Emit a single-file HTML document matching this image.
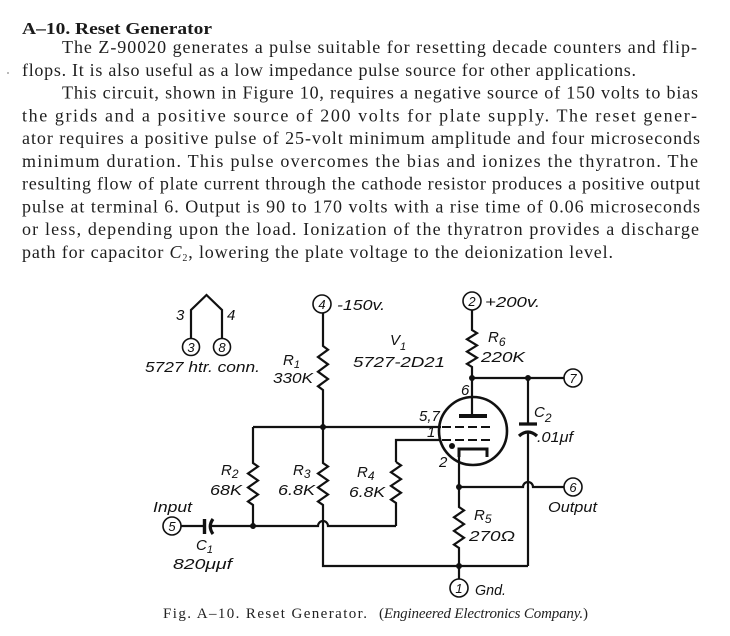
<!DOCTYPE html>
<html>
<head>
<meta charset="utf-8">
<style>
  html, body { margin: 0; padding: 0; background: #ffffff; }
  body { width: 730px; height: 636px; overflow: hidden; }
  svg { display: block; }
  .body { font-family: "Liberation Serif", serif; font-size: 18px; fill: #1e1e1e; }
  .lbl { font-family: "Liberation Sans", "DejaVu Sans", sans-serif; font-style: italic; font-size: 15px; fill: #111; }
  .num { font-family: "Liberation Sans", "DejaVu Sans", sans-serif; font-style: italic; font-size: 13px; fill: #111; text-anchor: middle; }
  .w { fill: none; stroke: #111; stroke-width: 2.2; stroke-linejoin: miter; }
  .c { fill: #fff; stroke: #111; stroke-width: 1.6; }
</style>
</head>
<body>
<svg width="730" height="636" viewBox="0 0 730 636" xmlns="http://www.w3.org/2000/svg">
  <!-- Title and body text -->
  <text x="22" y="34" font-family="Liberation Serif, serif" font-weight="bold" font-size="17" fill="#1a1a1a" textLength="190" lengthAdjust="spacingAndGlyphs">A–10. Reset Generator</text>

  <text class="body" x="62" y="53" textLength="635" lengthAdjust="spacing">The Z-90020 generates a pulse suitable for resetting decade counters and flip-</text>
  <text class="body" x="22" y="76" textLength="614" lengthAdjust="spacing">flops.  It is also useful as a low impedance pulse source for other applications.</text>
  <text class="body" x="62" y="98.7" textLength="636" lengthAdjust="spacing">This circuit, shown in Figure 10, requires a negative source of 150 volts to bias</text>
  <text class="body" x="22" y="121.5" textLength="675" lengthAdjust="spacing">the grids and a positive source of 200 volts for plate supply.  The reset gener-</text>
  <text class="body" x="22" y="144.2" textLength="678" lengthAdjust="spacing">ator requires a positive pulse of 25-volt minimum amplitude and four microseconds</text>
  <text class="body" x="22" y="167" textLength="676" lengthAdjust="spacing">minimum duration.  This pulse overcomes the bias and ionizes the thyratron.  The</text>
  <text class="body" x="22" y="189.7" textLength="678" lengthAdjust="spacing">resulting flow of plate current through the cathode resistor produces a positive output</text>
  <text class="body" x="22" y="212.5" textLength="678" lengthAdjust="spacing">pulse at terminal 6.  Output is 90 to 170 volts with a rise time of 0.06 microseconds</text>
  <text class="body" x="22" y="235.2" textLength="677" lengthAdjust="spacing">or less, depending upon the load.  Ionization of the thyratron provides a discharge</text>
  <text class="body" x="22" y="258" textLength="591" lengthAdjust="spacing">path for capacitor <tspan font-style="italic">C</tspan><tspan font-size="10" dy="3">2</tspan><tspan dy="-3">, lowering the plate voltage to the deionization level.</tspan></text>

  <circle cx="8" cy="73" r="0.9" fill="#888"/>

  <!-- Heater connection -->
  <path class="w" d="M191 338.5 V310 L206.5 295 L222 310 V338.5"/>
  <circle class="c" cx="191" cy="347" r="8.5"/>
  <circle class="c" cx="222" cy="347" r="8.5"/>
  <text class="num" x="191" y="352">3</text>
  <text class="num" x="222" y="352">8</text>
  <text class="lbl" x="176" y="320" font-size="13" font-style="normal">3</text>
  <text class="lbl" x="227" y="320" font-size="13" font-style="normal">4</text>
  <text class="lbl" x="145" y="372" textLength="115" lengthAdjust="spacingAndGlyphs">5727 htr. conn.</text>

  <!-- -150v supply and R1 -->
  <circle class="c" cx="322" cy="304" r="9"/>
  <text class="num" x="322" y="309">4</text>
  <text class="lbl" x="337" y="310" textLength="48" lengthAdjust="spacingAndGlyphs">-150v.</text>
  <path class="w" d="M323 313 V346 L328 349.7 L318 357 L328 364.3 L318 371.7 L328 379 L318 386.3 L323 390 V427"/>
  <text class="lbl" x="283" y="365">R<tspan font-size="11" dy="3">1</tspan></text>
  <text class="lbl" x="273" y="383" textLength="40" lengthAdjust="spacingAndGlyphs">330K</text>

  <!-- V1 label -->
  <text class="lbl" x="390" y="345">V<tspan font-size="11" dy="5">1</tspan></text>
  <text class="lbl" x="353" y="367" textLength="92" lengthAdjust="spacingAndGlyphs">5727-2D21</text>

  <!-- +200v supply, R6 -->
  <circle class="c" cx="472" cy="301" r="9"/>
  <text class="num" x="472" y="306">2</text>
  <text class="lbl" x="485" y="307" textLength="55" lengthAdjust="spacingAndGlyphs">+200v.</text>
  <path class="w" d="M472 310 V330 L477 333.1 L467 339.3 L477 345.4 L467 351.6 L477 357.8 L467 363.9 L472 367 V416"/>
  <text class="lbl" x="488" y="342">R<tspan font-size="12" dy="4">6</tspan></text>
  <text class="lbl" x="481" y="362" textLength="44" lengthAdjust="spacingAndGlyphs">220K</text>

  <!-- Plate line to terminal 7 -->
  <path class="w" d="M472 378 H564"/>
  <circle class="c" cx="573" cy="378" r="9"/>
  <text class="num" x="573" y="383">7</text>

  <!-- C2 -->
  <path class="w" d="M528 378 V424"/>
  <path d="M519 424 H537" stroke="#111" stroke-width="3.2" fill="none"/>
  <path d="M519 436 Q528 428 537 436" stroke="#111" stroke-width="3.2" fill="none"/>
  <path class="w" d="M528 432 V566"/>
  <text class="lbl" x="534" y="417">C<tspan font-size="12" dy="5">2</tspan></text>
  <text class="lbl" x="537" y="442" textLength="36" lengthAdjust="spacingAndGlyphs">.01μf</text>

  <!-- Tube -->
  <circle cx="473" cy="431" r="34" fill="none" stroke="#111" stroke-width="2.6"/>
  <rect x="459" y="414" width="28" height="4" fill="#111"/>
  <path d="M442 427 H491" stroke="#111" stroke-width="2" stroke-dasharray="9 4" fill="none"/>
  <path d="M442 440 H491" stroke="#111" stroke-width="2" stroke-dasharray="9 4" fill="none"/>
  <path d="M459 457 V449 H487 V457" stroke="#111" stroke-width="3" fill="none"/>
  <circle cx="452" cy="446" r="3" fill="#111"/>
  <text class="lbl" x="461" y="395" font-size="14" font-style="normal">6</text>
  <text class="lbl" x="419" y="421" font-size="13" font-style="normal">5,7</text>
  <text class="lbl" x="427" y="437" font-size="11">1</text>
  <text class="lbl" x="439" y="467" font-size="14" font-style="normal">2</text>

  <!-- Grid wires -->
  <path class="w" d="M253 427 H441"/>
  <path class="w" d="M396 462 V440 H441"/>

  <!-- R2 -->
  <path class="w" d="M253 427 V463 L258 466.5 L248 473.5 L258 480.5 L248 487.5 L258 494.5 L248 501.5 L253 505 V526"/>
  <text class="lbl" x="221" y="475">R<tspan font-size="12" dy="3">2</tspan></text>
  <text class="lbl" x="210" y="495" textLength="32" lengthAdjust="spacingAndGlyphs">68K</text>

  <!-- R3 -->
  <path class="w" d="M323 427 V463 L328 466.5 L318 473.5 L328 480.5 L318 487.5 L328 494.5 L318 501.5 L323 505 V566 H528"/>
  <text class="lbl" x="293" y="475">R<tspan font-size="12" dy="3">3</tspan></text>
  <text class="lbl" x="278" y="495" textLength="37" lengthAdjust="spacingAndGlyphs">6.8K</text>

  <!-- R4 -->
  <path class="w" d="M396 462 L401 465.4 L391 472.3 L401 479.1 L391 485.9 L401 492.8 L391 499.6 L396 503 V526"/>
  <text class="lbl" x="357" y="477">R<tspan font-size="12" dy="3">4</tspan></text>
  <text class="lbl" x="349" y="497" textLength="36" lengthAdjust="spacingAndGlyphs">6.8K</text>

  <!-- Bottom bias line with hop over R3 lead -->
  <path class="w" d="M253 526 H318 A5 5 0 0 1 328 526 H396"/>

  <!-- Input and C1 -->
  <circle class="c" cx="172" cy="526" r="9"/>
  <text class="num" x="172" y="531">5</text>
  <text class="lbl" x="153" y="512" textLength="39" lengthAdjust="spacingAndGlyphs">Input</text>
  <path class="w" d="M181 526 H204"/>
  <path d="M204.5 519 V534" stroke="#111" stroke-width="3.4" fill="none"/>
  <path d="M213 519 Q207.5 526.5 213 534" stroke="#111" stroke-width="3.2" fill="none"/>
  <path class="w" d="M210 526 H253"/>
  <text class="lbl" x="196" y="550">C<tspan font-size="11" dy="3">1</tspan></text>
  <text class="lbl" x="173" y="569" textLength="59" lengthAdjust="spacingAndGlyphs">820μμf</text>

  <!-- Cathode, R5 -->
  <path class="w" d="M459 449 V507 L464 510.4 L454 517.3 L464 524.1 L454 530.9 L464 537.8 L454 544.6 L459 548 V579"/>
  <text class="lbl" x="474" y="520">R<tspan font-size="12" dy="3">5</tspan></text>
  <text class="lbl" x="469" y="541" textLength="46" lengthAdjust="spacingAndGlyphs">270Ω</text>

  <!-- Output line with hop over C2 lead -->
  <path class="w" d="M459 487 H523 A5 5 0 0 1 533 487 H564"/>
  <circle class="c" cx="573" cy="487" r="9"/>
  <text class="num" x="573" y="492">6</text>
  <text class="lbl" x="548" y="512" textLength="49" lengthAdjust="spacingAndGlyphs">Output</text>

  <!-- Ground -->
  <circle class="c" cx="459" cy="588" r="9"/>
  <text class="num" x="459" y="593">1</text>
  <text class="lbl" x="475" y="595" textLength="31" lengthAdjust="spacingAndGlyphs">Gnd.</text>

  <!-- Junction dots -->
  <circle cx="323" cy="427" r="3" fill="#111"/>
  <circle cx="253" cy="526" r="3" fill="#111"/>
  <circle cx="472" cy="378" r="3" fill="#111"/>
  <circle cx="528" cy="378" r="3" fill="#111"/>
  <circle cx="459" cy="487" r="3" fill="#111"/>
  <circle cx="459" cy="566" r="3" fill="#111"/>

  <!-- Caption -->
  <text x="163" y="618" font-family="Liberation Serif, serif" font-size="15" fill="#222" textLength="204" lengthAdjust="spacing">Fig. A–10.   Reset Generator.</text>
  <text x="379" y="618" font-family="Liberation Serif, serif" font-size="15" fill="#222" textLength="209" lengthAdjust="spacing">(<tspan font-style="italic">Engineered Electronics Company.</tspan>)</text>
</svg>
</body>
</html>
